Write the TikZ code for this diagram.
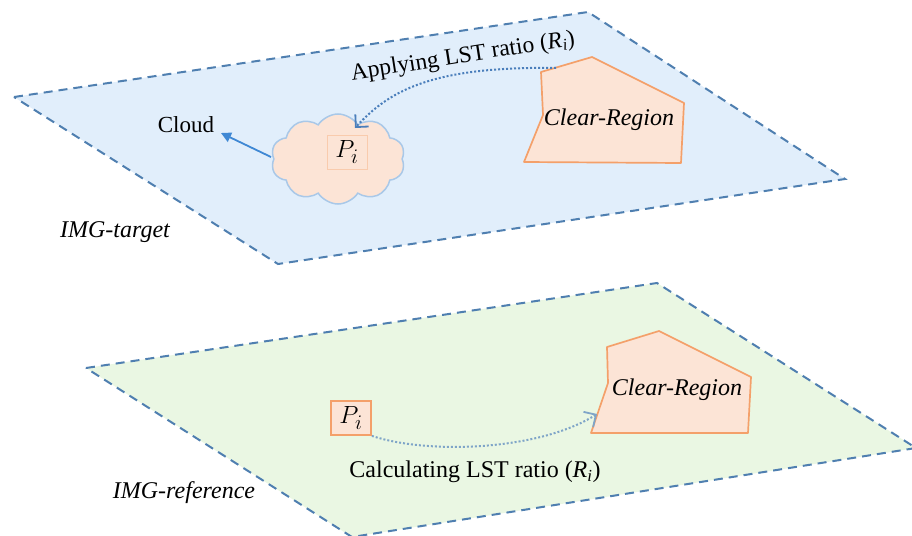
\documentclass[tikz,border=0pt]{standalone}
\usepackage{fontspec}
\setmainfont{Liberation Serif}
\usetikzlibrary{shapes.symbols,arrows.meta}
\definecolor{planeblue}{HTML}{E1EEFB}
\definecolor{planegreen}{HTML}{EAF7E3}
\definecolor{dashcol}{HTML}{4F7FB0}
\definecolor{peach}{HTML}{FCE4D6}
\definecolor{orangeln}{HTML}{F4A06A}
\definecolor{cloudln}{HTML}{A9C8E8}
\definecolor{arrowblue}{HTML}{4A7EBB}
\definecolor{arrowlight}{HTML}{7FA5C8}
\definecolor{cloudarrow}{HTML}{3F88D4}
\newcommand{\Ri}{(\textit{R}\textsubscript{\textit{i}})}
\tikzset{
  plane/.style={draw=dashcol, line width=2pt, dash pattern=on 9pt off 6pt},
  region/.style={draw=orangeln, fill=peach, line width=1.7pt, line join=round},
  lbl/.style={font=\fontsize{24}{28}\selectfont, inner sep=0pt},
  ilbl/.style={font=\fontsize{24}{28}\selectfont\itshape, inner sep=0pt},
  pbox/.style={fill=peach, minimum width=40pt, minimum height=34pt, inner sep=0pt, font=\fontsize{28}{32}\selectfont},
  dotarrow/.style={dotted, line width=2pt, -{Straight Barb[length=9pt,width=18pt,line width=1.8pt]}},
}
\begin{document}
\begin{tikzpicture}[x=1pt,y=-1pt]
\useasboundingbox (0,0) rectangle (912,535);
% planes
\draw[plane, fill=planeblue] (14,97) -- (588,12) -- (845,179) -- (278,264) -- cycle;
\draw[plane, fill=planegreen] (86,368) -- (657,283) -- (916,448) -- (352,537) -- cycle;
% top layer
\node[cloud, cloud puffs=10, cloud puff arc=115, aspect=1.45, draw=cloudln, fill=peach, line width=1.5pt,
      minimum width=134pt, minimum height=90pt, inner sep=0pt] (cloud) at (338,159) {};
\node[pbox, draw=orangeln!55, line width=0.9pt] (p1) at (347,152) {$P_i$};
\draw[region] (541,72) -- (592,57) -- (684,103) -- (681,163) -- (524,162) -- (543,115) -- cycle;
\node[ilbl] (cr1) at (609,120) {Clear-Region};
\node[lbl, font=\fontsize{23}{27}\selectfont] (cloudlbl) at (186,125) {Cloud};
\node[ilbl] (imgt) at (115,232) {IMG-target};
\node[lbl, font=\fontsize{23.5}{27}\selectfont, rotate=9] (apply) at (463,57) {Applying LST ratio \Ri};
\coordinate (c1s) at (556,68);
\coordinate (c1e) at (355,128);
\draw[dotarrow, arrowblue] (c1s) .. controls (430,66) and (388,92) .. (c1e);
\coordinate (cloudw) at (271,157);
\coordinate (cloudtip) at (221,133);
\draw[cloudarrow, line width=1.8pt, -{Triangle[length=10pt,width=10pt]}] (cloudw) -- (cloudtip);
% bottom layer
\node[pbox, draw=orangeln, line width=1.8pt] (p2) at (351,418) {$P_i$};
\draw[region] (607,347) -- (659,331) -- (751,377) -- (748,433) -- (591,433) -- (608,383) -- cycle;
\node[ilbl] (cr2) at (677,390) {Clear-Region};
\coordinate (c2e) at (597,414);
\draw[dotarrow, arrowlight] (p2.south east) .. controls (430,455) and (540,450) .. (c2e);
\node[lbl] (calc) at (475,472) {Calculating LST ratio \Ri};
\node[ilbl] (imgr) at (184,493) {IMG-reference};
\end{tikzpicture}
\end{document}
